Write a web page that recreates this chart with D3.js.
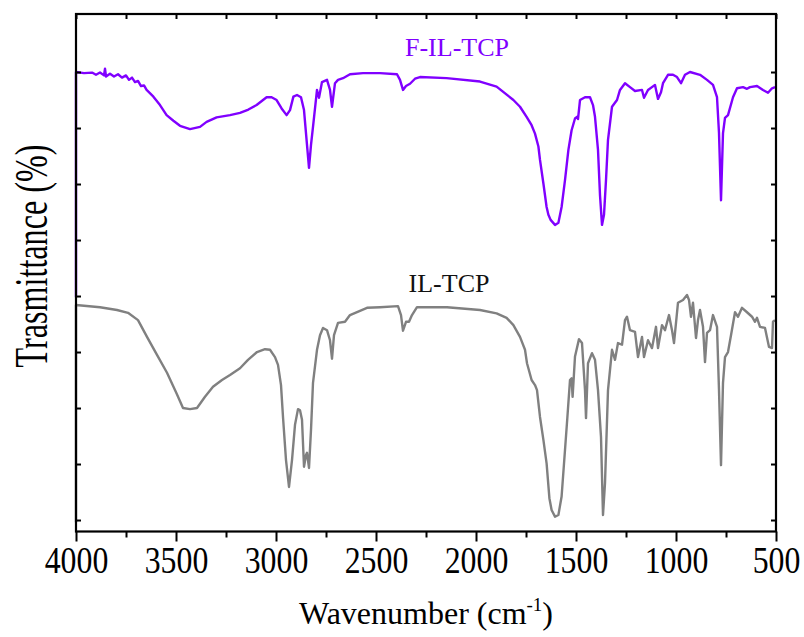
<!DOCTYPE html>
<html><head><meta charset="utf-8">
<script src="https://cdn.jsdelivr.net/npm/d3@7"></script>
<style>
body{margin:0;background:#fff;}
svg{display:block;}
</style></head>
<body><svg id="c" width="804" height="637"></svg>
<script>
// ---- data (wavenumber cm^-1, transmittance a.u.) ----
const wnF = [4000,4000,3960,3920,3900,3880,3860,3855,3850,3830,3810,3790,3770,3750,3735,3720,3705,3690,3675,3660,3647,3613,3580,3547,3513,3480,3430,3380,3347,3297,3230,3180,3138,3097,3047,3022,2997,2972,2947,2930,2913,2895,2875,2860,2845,2835,2825,2815,2795,2785,2770,2745,2730,2720,2705,2690,2665,2630,2565,2480,2395,2380,2365,2350,2330,2305,2280,2147,1980,1897,1813,1780,1747,1722,1705,1688,1680,1663,1647,1638,1627,1605,1588,1572,1555,1538,1522,1505,1495,1490,1480,1455,1430,1415,1405,1390,1380,1370,1360,1350,1340,1320,1295,1280,1255,1230,1205,1170,1160,1140,1105,1090,1075,1065,1040,1015,995,975,955,930,880,845,815,795,785,775,765,755,740,715,695,665,645,630,595,565,540,520,505];
const tF = [39.8,80.0,79.8,79.9,79.5,79.9,79.4,80.6,79.2,79.7,79.2,79.6,79.0,79.4,78.6,79.0,78.2,78.4,77.5,77.6,76.8,75.6,74.1,72.3,71.3,70.4,69.8,70.2,71.1,71.9,72.3,72.7,73.3,74.1,75.5,75.5,75.0,73.5,72.3,73.2,75.6,75.9,75.5,73.2,67.0,62.9,67.0,70.2,76.8,75.4,78.2,78.6,76.8,73.8,78.0,78.6,78.9,79.6,79.8,79.8,79.6,78.6,76.8,77.5,77.9,78.8,79.1,78.9,78.3,77.4,75.0,73.8,72.0,70.5,69.0,66.7,64.3,60.1,55.9,54.5,53.6,52.7,53.1,55.9,60.7,66.1,69.6,71.7,72.0,71.6,75.0,75.5,75.5,74.1,72.0,66.1,58.0,52.7,54.5,60.7,67.9,73.8,75.0,76.8,78.0,77.3,76.6,76.8,75.4,76.8,77.7,75.2,76.4,78.0,79.5,79.5,79.1,78.0,79.5,80.0,79.5,78.6,77.7,75.5,69.1,57.1,69.1,71.8,72.3,75.5,77.1,77.3,77.0,77.3,77.5,76.8,76.3,77.1,77.3];

const wnIL = [4000,4000,3880,3795,3740,3690,3645,3595,3545,3497,3465,3430,3395,3355,3315,3270,3230,3180,3140,3095,3055,3030,3005,2990,2975,2965,2950,2935,2920,2905,2890,2880,2870,2860,2850,2845,2835,2825,2815,2795,2780,2765,2745,2730,2720,2710,2690,2655,2630,2545,2480,2390,2375,2365,2350,2335,2320,2295,2145,1980,1897,1847,1813,1780,1755,1745,1722,1705,1695,1680,1663,1647,1633,1622,1605,1588,1572,1555,1543,1530,1522,1517,1505,1485,1470,1455,1450,1440,1420,1405,1390,1375,1365,1355,1340,1320,1305,1290,1270,1255,1245,1230,1205,1190,1170,1160,1140,1120,1100,1090,1070,1055,1035,1020,1010,990,965,945,935,925,915,900,890,880,865,855,845,830,815,795,785,775,765,755,740,725,705,690,670,645,620,605,595,580,555,535,520,515,505];
const tIL = [-0.4,38.4,38.0,37.5,37.0,35.7,32.7,29.5,26.3,22.6,20.0,19.8,20.0,22.0,23.8,25.0,25.9,27.1,28.6,30.0,30.5,30.4,29.1,27.7,24.1,18.4,10.7,5.9,10.7,17.0,19.8,19.6,17.9,9.5,11.6,12.0,9.3,16.1,24.5,30.4,33.0,34.3,33.9,32.1,28.8,33.0,35.2,35.4,36.6,37.9,38.0,38.2,36.6,33.8,35.4,35.4,36.6,38.0,38.0,37.5,36.9,36.1,34.8,32.7,30.4,28.0,25.0,24.1,23.2,18.4,14.3,10.1,3.9,1.8,0.6,0.9,4.2,12.5,18.4,25.0,25.3,22.0,29.2,32.3,31.6,23.2,18.2,28.0,29.8,28.6,23.2,14.8,0.9,6.6,23.2,30.4,28.6,31.6,31.3,35.7,36.3,33.9,33.6,29.1,32.7,29.1,32.1,30.7,34.5,30.7,34.8,33.9,36.6,33.9,31.6,38.8,39.3,40.2,39.3,36.3,38.8,32.5,35.7,37.5,34.5,28.2,33.4,33.9,36.6,34.5,23.2,9.8,24.5,29.1,30.0,33.0,37.1,36.3,37.9,37.1,36.3,35.4,36.1,34.5,34.3,30.9,30.7,35.4,35.7];

const seriesNames = ["F-IL-TCP","IL-TCP"];
const xMajorTicks = [4000,3500,3000,2500,2000,1500,1000,500];
const xMinorTicks = [3750,3250,2750,2250,1750,1250,750];
const yTicks = [0,10,20,30,40,50,60,70,80];
const xTitle = "Wavenumber (cm";
const xTitleSup = "-1";
const yTitle = "Trasmittance (%)";

// ---- drawing ----
const FONT = "'Liberation Serif','Times New Roman',serif";
const svg = d3.select("#c");
const L=76, R=776, T=14, B=531.5;
const x = d3.scaleLinear().domain([4000,500]).range([L,R]);
const y = d3.scaleLinear().domain([-2.05,90.36]).range([B,T]);

const line = d3.line().x(d=>x(d[0])).y(d=>y(d[1]));
const dataF = wnF.map((w,i)=>[w,tF[i]]);
const dataIL = wnIL.map((w,i)=>[w,tIL[i]]);

svg.append("path").datum(dataIL).attr("d",line).attr("fill","none")
  .attr("stroke","#808080").attr("stroke-width",2.4).attr("stroke-linejoin","round");
svg.append("path").datum(dataF).attr("d",line).attr("fill","none")
  .attr("stroke","#8000ff").attr("stroke-width",2.4).attr("stroke-linejoin","round");

// axes
const gB = svg.append("g").attr("transform",`translate(0,${B})`)
  .call(d3.axisBottom(x).tickValues(xMajorTicks).tickSize(10).tickSizeOuter(0).tickFormat(d3.format("d")));
gB.attr("font-family",FONT);
gB.selectAll("text").attr("y",41.5).attr("dy",0).attr("font-size",37)
  .attr("font-family",FONT).attr("transform","scale(0.86,1)").attr("fill","#000");
svg.append("g").attr("transform",`translate(0,${B})`)
  .call(d3.axisBottom(x).tickValues(xMinorTicks).tickSize(6).tickSizeOuter(0).tickFormat(""));
svg.append("g").attr("transform",`translate(0,${T})`)
  .call(d3.axisTop(x).tickValues(xMajorTicks.concat(xMinorTicks)).tickSize(-5).tickSizeOuter(0).tickFormat(""));
svg.append("g").attr("transform",`translate(${L},0)`)
  .call(d3.axisLeft(y).tickValues(yTicks).tickSize(-5).tickSizeOuter(0).tickFormat(""));
svg.append("g").attr("transform",`translate(${R},0)`)
  .call(d3.axisRight(y).tickValues(yTicks).tickSize(-5).tickSizeOuter(0).tickFormat(""));
svg.selectAll(".domain").remove();
svg.selectAll(".tick line").attr("stroke","#000").attr("stroke-width",2);

svg.append("rect").attr("x",L).attr("y",T).attr("width",R-L).attr("height",B-T)
  .attr("fill","none").attr("stroke","#000").attr("stroke-width",2.2);

// series labels
svg.append("text").attr("x",457).attr("y",56).attr("text-anchor","middle").attr("font-family",FONT)
  .attr("font-size",26).attr("fill","#8000ff").text(seriesNames[0]);
svg.append("text").attr("x",449).attr("y",292).attr("text-anchor","middle").attr("font-family",FONT)
  .attr("font-size",26).attr("fill","#111").text(seriesNames[1]);

// axis titles
const xt = svg.append("text").attr("x",(L+R)/2).attr("y",624).attr("text-anchor","middle")
  .attr("font-family",FONT).attr("font-size",32).attr("fill","#000");
xt.append("tspan").text(xTitle);
xt.append("tspan").attr("font-size",19).attr("dy",-13).text(xTitleSup);
xt.append("tspan").attr("dy",13).text(")");

svg.append("text").attr("transform","translate(47,256) rotate(-90) scale(0.7,1)")
  .attr("text-anchor","middle").attr("font-family",FONT).attr("font-size",46).attr("fill","#000").text(yTitle);
</script></body></html>
